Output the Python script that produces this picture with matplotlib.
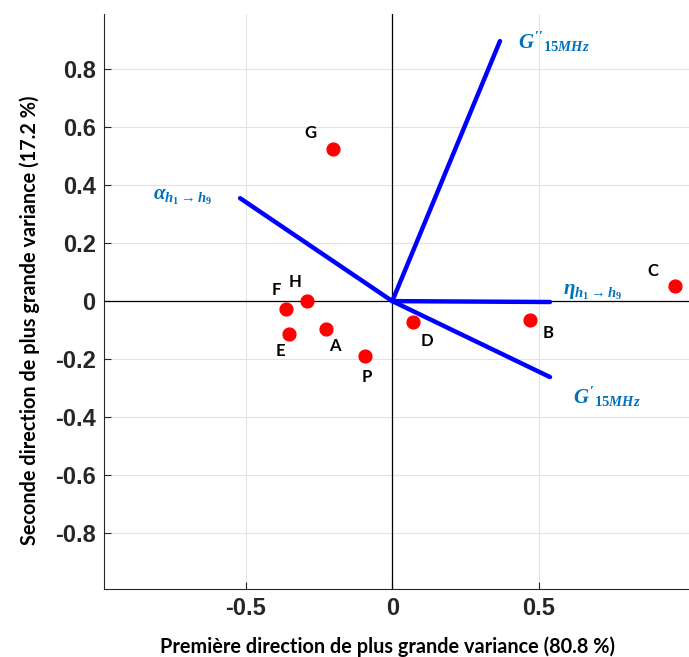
import numpy as np
import matplotlib
matplotlib.use("Agg")
import matplotlib.pyplot as plt

# Individuals (scores on the first two principal directions)
names = ["G", "C", "H", "F", "E", "A", "P", "D", "B"]
pc1 = [-0.203, 0.966, -0.291, -0.363, -0.353, -0.226, -0.093, 0.071, 0.470]
pc2 = [0.524, 0.052, 0.0, -0.028, -0.114, -0.097, -0.19, -0.072, -0.066]
# label offsets in points (dx, dy)
lab_dx = [-16, -16, -9, -7, -6, 6, 1, 10, 13]
lab_dy = [12, 11, 14, 14, -12, -12, -15, -14, -9]

# Variables (loadings)
var_names = [r"$G''_{15MHz}$", r"$\alpha_{h_1\rightarrow h_9}$",
             r"$\eta_{h_1\rightarrow h_9}$", r"$G'_{15MHz}$"]
var_x = [0.368, -0.520, 0.539, 0.539]
var_y = [0.897, 0.355, -0.003, -0.262]
var_lx = [0.429, -0.819, 0.582, 0.617]
var_ly = [0.893, 0.359, 0.031, -0.331]

plt.rcParams["mathtext.fontset"] = "custom"
plt.rcParams["mathtext.it"] = "Liberation Serif:bold:italic"
plt.rcParams["mathtext.rm"] = "Liberation Serif:bold"
plt.rcParams["mathtext.bf"] = "Liberation Serif:bold"

fig = plt.figure(figsize=(6.89, 6.57), dpi=100)
ax = fig.add_axes([0.151, 0.1035, 0.849, 0.875])

ax.axhline(0, color="k", lw=0.9, zorder=1)
ax.axvline(0, color="k", lw=0.9, zorder=1)

for x, y in zip(var_x, var_y):
    ax.plot([0, x], [0, y], color="#0000ff", lw=3.2, solid_capstyle="round", zorder=3)
for t, x, y in zip(var_names, var_lx, var_ly):
    ax.text(x, y, t, color="#0072bd", fontsize=15, ha="left", va="center", zorder=5)

ax.scatter(pc1, pc2, s=85, color="#ff0000", zorder=4, clip_on=False)
for n, x, y, dx, dy in zip(names, pc1, pc2, lab_dx, lab_dy):
    ax.annotate(n, (x, y), xytext=(dx, dy), textcoords="offset points",
                ha="center", va="center", fontsize=12, fontweight="bold",
                family="Lato", zorder=5)

ax.set_xlim(-0.985, 1.014)
ax.set_ylim(-0.993, 0.99)
ax.set_xticks([-0.5, 0, 0.5])
ax.set_xticklabels(["-0.5", "0", "0.5"])
ax.set_yticks([0.8, 0.6, 0.4, 0.2, 0, -0.2, -0.4, -0.6, -0.8])
ax.set_yticklabels(["0.8", "0.6", "0.4", "0.2", "0", "-0.2", "-0.4", "-0.6", "-0.8"])
ax.grid(True, color="#e3e3e3", lw=0.8, zorder=0)
ax.set_axisbelow(True)
ax.tick_params(direction="in", length=5, width=0.8, colors="#262626", labelsize=17, pad=6)
for lab in ax.get_xticklabels() + ax.get_yticklabels():
    lab.set_fontweight("bold")
    lab.set_family("Liberation Sans")
ax.spines["top"].set_visible(False)
ax.spines["right"].set_visible(False)
ax.spines["left"].set_color("#262626")
ax.spines["bottom"].set_color("#262626")

ax.set_xlabel("Première direction de plus grande variance (80.8 %)",
              fontsize=14.3, fontweight="bold", family="Lato", va="center")
ax.set_ylabel("Seconde direction de plus grande variance (17.2 %)",
              fontsize=14.3, fontweight="bold", family="Lato", va="center")
ax.xaxis.set_label_coords(0.485, -0.101)
ax.yaxis.set_label_coords(-0.1266, 0.468)

fig.savefig("out.png", dpi=100)
